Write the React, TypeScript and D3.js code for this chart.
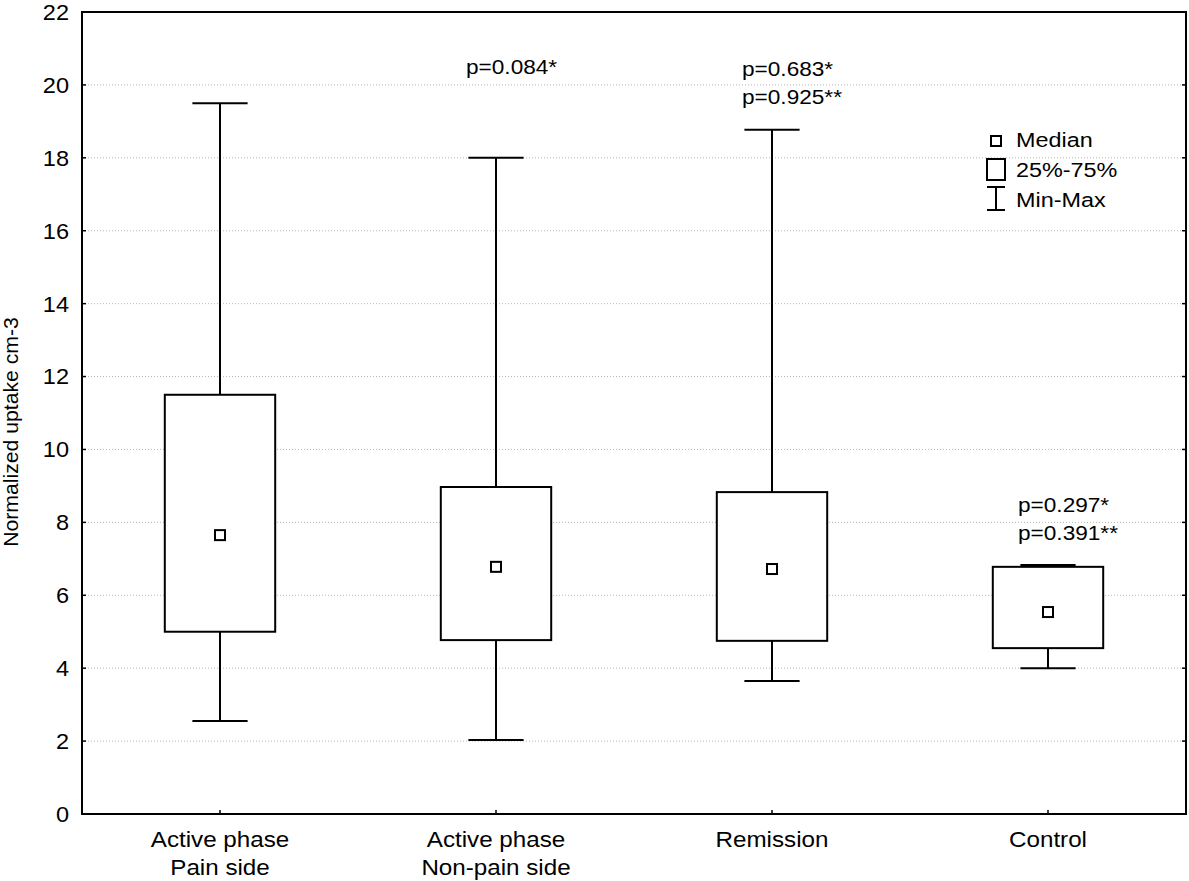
import React from 'react';
import * as d3 from 'd3';

// data
const groups = ['Active phase|Pain side', 'Active phase|Non-pain side', 'Remission', 'Control'];
const mins = [2.55, 2.03, 3.65, 4.0];
const q1s = [5.0, 4.77, 4.75, 4.55];
const medians = [7.65, 6.78, 6.72, 5.54];
const q3s = [11.5, 8.97, 8.83, 6.78];
const maxs = [19.5, 18.0, 18.77, 6.83];
const pLabels = [[], ['p=0.084*'], ['p=0.683*', 'p=0.925**'], ['p=0.297*', 'p=0.391**']];
const pTop = [0, 20.3, 20.25, 8.29];
const yTicks = [0, 2, 4, 6, 8, 10, 12, 14, 16, 18, 20, 22];

// text stretched a bit wider, like the original export
const T = ({ x, y, sx = 1.1, size, anchor = 'start', dy, children }: any) => (
  <text transform={`translate(${x},${y}) scale(${sx},1)`} textAnchor={anchor} dy={dy} fontSize={size}>
    {children}
  </text>
);

const App = () => {
  const width = 1189;
  const height = 881;
  const margin = { top: 12, right: 3, bottom: 67, left: 82 };
  const w = width - margin.left - margin.right;
  const h = height - margin.top - margin.bottom;

  const x = d3.scaleBand().domain(groups).range([0, w]).padding(0);
  const y = d3.scaleLinear().domain([0, 22]).range([h, 0]);

  const bw = x.bandwidth();
  const boxW = bw * 0.4;
  const capW = bw * 0.2;
  const font = '"Liberation Sans", Arial, sans-serif';

  const grid = yTicks.filter(t => t > 0 && t < 22).map(t => (
    <line key={'g' + t} x1={0} x2={w} y1={y(t)} y2={y(t)}
          stroke="#b8b8b8" strokeWidth={1} strokeDasharray="1,2" />
  ));

  const ticks = yTicks.map(t => (
    <g key={'t' + t}>
      <line x1={0} x2={4} y1={y(t)} y2={y(t)} stroke="#000" strokeWidth={1.5} />
      <line x1={w - 4} x2={w} y1={y(t)} y2={y(t)} stroke="#000" strokeWidth={1.5} />
      <T x={-13} y={y(t)} dy="0.36em" anchor="end" size={22} sx={1.07}>{t}</T>
    </g>
  ));

  const boxes = groups.map((g, i) => {
    const cx = (x(g) as number) + bw / 2;
    return (
      <g key={'b' + i} stroke="#000" strokeWidth={2}>
        <line x1={cx} x2={cx} y1={y(maxs[i])} y2={y(q3s[i])} />
        <line x1={cx} x2={cx} y1={y(q1s[i])} y2={y(mins[i])} />
        <line x1={cx - capW / 2} x2={cx + capW / 2} y1={y(maxs[i])} y2={y(maxs[i])} />
        <line x1={cx - capW / 2} x2={cx + capW / 2} y1={y(mins[i])} y2={y(mins[i])} />
        <rect x={cx - boxW / 2} y={y(q3s[i])} width={boxW} height={y(q1s[i]) - y(q3s[i])} fill="#fff" />
        <rect x={cx - 5} y={y(medians[i]) - 5} width={10} height={10} fill="#fff" />
      </g>
    );
  });

  const pText = groups.map((g, i) => {
    const cx = (x(g) as number) + bw / 2;
    return pLabels[i].map((s, j) => (
      <T key={'p' + i + j} x={cx - 30} y={y(pTop[i]) + j * 28} size={19.5} sx={1.16}>{s}</T>
    ));
  });

  const xLabels = groups.map((g, i) => {
    const cx = (x(g) as number) + bw / 2;
    return (
      <g key={'x' + i}>
        <line x1={cx} x2={cx} y1={h} y2={h - 4} stroke="#000" strokeWidth={1.5} />
        {g.split('|').map((line, j) => (
          <T key={j} x={cx} y={h + 33 + j * 28} anchor="middle" size={22} sx={1.1}>{line}</T>
        ))}
      </g>
    );
  });

  // legend
  const lx = 996;
  const legend = (
    <g>
      <rect x={lx - 5} y={136} width={10} height={10} fill="#fff" stroke="#000" strokeWidth={2} />
      <T x={1016} y={147} size={19.5} sx={1.2}>Median</T>
      <rect x={lx - 9} y={159} width={18} height={21} fill="#fff" stroke="#000" strokeWidth={2} />
      <T x={1016} y={177} size={19.5} sx={1.2}>25%-75%</T>
      <line x1={lx} x2={lx} y1={187} y2={210} stroke="#000" strokeWidth={2} />
      <line x1={lx - 9} x2={lx + 9} y1={187} y2={187} stroke="#000" strokeWidth={2} />
      <line x1={lx - 9} x2={lx + 9} y1={210} y2={210} stroke="#000" strokeWidth={2} />
      <T x={1016} y={207} size={19.5} sx={1.2}>Min-Max</T>
    </g>
  );

  return (
    <div>
      <svg width={width} height={height} fontFamily={font}
           style={{ position: 'absolute', left: 0, top: 0, background: '#fff' }}>
        <text transform="translate(18,432) rotate(-90) scale(1.06,1)"
              textAnchor="middle" fontSize={20}>Normalized uptake cm-3</text>
        <g transform={`translate(${margin.left},${margin.top})`}>
          {grid}
          {boxes}
          {pText}
          <rect x={0} y={0} width={w} height={h} fill="none" stroke="#000" strokeWidth={2} />
          {ticks}
          {xLabels}
        </g>
        {legend}
      </svg>
    </div>
  );
};

export default App;
